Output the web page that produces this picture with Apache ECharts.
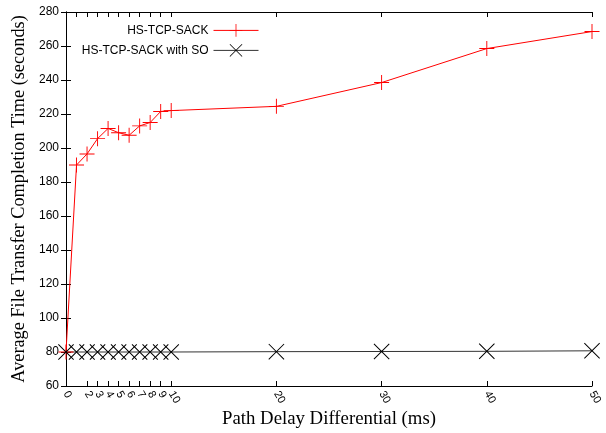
<!DOCTYPE html>
<html>
<head>
<meta charset="utf-8">
<script src="https://cdn.jsdelivr.net/npm/echarts@6/dist/echarts.min.js"></script>
<style>
  html, body { margin: 0; padding: 0; background: #fff; }
  #main { width: 606px; height: 433px; }
</style>
</head>
<body>
<div id="main"></div>
<script>
// path delay differential (ms)
var delays = [0, 1, 2, 3, 4, 5, 6, 7, 8, 9, 10, 20, 30, 40, 50];
// average completion time (s)
var sack = [80, 190, 196.5, 205.5, 211.5, 209, 207.5, 213, 215, 221.5, 222, 224.5, 238.5, 258.5, 268.5];
var sackSO = [80, 80, 80, 80, 80, 80, 80, 80, 80, 80, 80, 80.2, 80.3, 80.4, 80.7];
var xTicks = [0, 1, 2, 3, 4, 5, 6, 7, 8, 9, 10, 20, 30, 40, 50];

var plusPath = 'path://M0,7.5H16V8.5H0Z M7.5,0H8.5V16H7.5Z';
var crossPath = 'path://M0.7,0L16,15.3L15.3,16L0,0.7Z M15.3,0L16,0.7L0.7,16L0,15.3Z';

function pairs(ys) {
    return delays.map(function (d, i) { return [d, ys[i]]; });
}

var sansFont = '"Liberation Sans", Arial, sans-serif';
var serifFont = '"Liberation Serif", "Times New Roman", serif';

var myChart = echarts.init(document.getElementById('main'));

var axisLine = { show: true, lineStyle: { color: '#000', width: 1 } };

function legendFor(name, top) {
    return {
        data: [name],
        orient: 'vertical',
        align: 'right',
        right: 342, top: top,
        itemWidth: 45, itemHeight: 16,
        itemGap: 4,
        lineStyle: { width: 1 },
        textStyle: { fontFamily: sansFont, fontSize: 12, color: '#000' }
    };
}

myChart.setOption({
    animation: false,
    grid: { left: 66, right: 14, top: 12, bottom: 47, outerBoundsMode: 'none', containLabel: false },
    legend: [
        legendFor('HS-TCP-SACK', 19),
        legendFor('HS-TCP-SACK with SO', 39)
    ],
    xAxis: [
        {
            type: 'value', min: 0, max: 50, position: 'bottom',
            name: 'Path Delay Differential (ms)',
            nameLocation: 'middle', nameGap: 24, nameMoveOverlap: false,
            nameTextStyle: { fontFamily: serifFont, fontSize: 18.8, color: '#000' },
            axisLine: axisLine,
            axisTick: { inside: true, length: 5, customValues: xTicks, lineStyle: { color: '#000' } },
            axisLabel: {
                customValues: xTicks, rotate: -60, margin: 6,
                showMinLabel: true, showMaxLabel: true, hideOverlap: false,
                fontFamily: sansFont, fontSize: 11, color: '#000'
            },
            splitLine: { show: false }
        },
        {
            type: 'value', min: 0, max: 50, position: 'top',
            axisLine: axisLine,
            axisTick: { inside: true, length: 5, customValues: xTicks, lineStyle: { color: '#000' } },
            axisLabel: { show: false },
            splitLine: { show: false }
        }
    ],
    yAxis: [
        {
            type: 'value', min: 60, max: 280, interval: 20, position: 'left',
            name: 'Average File Transfer Completion Time (seconds)',
            nameLocation: 'middle', nameGap: 38, nameMoveOverlap: false,
            nameTextStyle: { fontFamily: serifFont, fontSize: 18.3, color: '#000' },
            axisLine: axisLine,
            axisTick: { inside: true, length: 5, lineStyle: { color: '#000' } },
            axisLabel: { margin: 7, fontFamily: sansFont, fontSize: 12, color: '#000' },
            splitLine: { show: false }
        },
        {
            type: 'value', min: 60, max: 280, interval: 20, position: 'right',
            axisLine: axisLine,
            axisTick: { inside: true, length: 5, lineStyle: { color: '#000' } },
            axisLabel: { show: false },
            splitLine: { show: false }
        }
    ],
    series: [
        {
            name: 'HS-TCP-SACK',
            type: 'line',
            data: pairs(sack),
            symbol: plusPath,
            symbolSize: 15,
            clip: false,
            lineStyle: { color: '#ff0000', width: 1 },
            itemStyle: { color: '#ff0000' }
        },
        {
            name: 'HS-TCP-SACK with SO',
            type: 'line',
            data: pairs(sackSO),
            symbol: crossPath,
            symbolSize: 16,
            clip: false,
            lineStyle: { color: '#333', width: 1 },
            itemStyle: { color: '#000' }
        }
    ]
});
</script>
</body>
</html>
